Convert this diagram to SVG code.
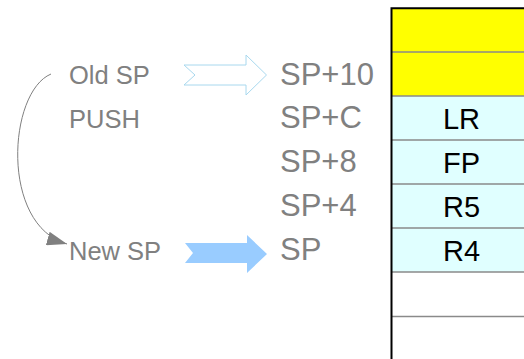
<svg xmlns="http://www.w3.org/2000/svg" width="524" height="359" viewBox="0 0 524 359">
  <style>
    .lbl { font-family: "Liberation Sans", Arial, sans-serif; font-size: 25.5px; fill: #808080; }
    .sp { font-family: "Liberation Sans", Arial, sans-serif; font-size: 31px; fill: #808080; }
    .cell { font-family: "Liberation Sans", Arial, sans-serif; font-size: 29px; fill: #000000; text-anchor: middle; }
    .sep { stroke: #8a8a8a; stroke-width: 1.5; }
  </style>
  <defs>
    <marker id="ah2" viewBox="0 0 20 14" refX="20" refY="7" markerWidth="20" markerHeight="14" markerUnits="userSpaceOnUse" orient="auto">
      <path d="M0,0 L20,7 L0,14 z" fill="#808080"/>
    </marker>
  </defs>
  <rect width="524" height="359" fill="#ffffff"/>

  <g id="stack">
    <rect x="391.5" y="8.3" width="140" height="88" fill="#ffff00"/>
    <rect x="391.5" y="96" width="140" height="176" fill="#e0ffff"/>
    <line class="sep" x1="392" y1="52" x2="524" y2="52"/>
    <line class="sep" x1="392" y1="96" x2="524" y2="96"/>
    <line class="sep" x1="392" y1="140" x2="524" y2="140"/>
    <line class="sep" x1="392" y1="184" x2="524" y2="184"/>
    <line class="sep" x1="392" y1="228" x2="524" y2="228"/>
    <line class="sep" x1="392" y1="272" x2="524" y2="272"/>
    <line class="sep" x1="392" y1="316.5" x2="524" y2="316.5"/>
    <path d="M391.5,359 L391.5,8.3 L524,8.3" fill="none" stroke="#000000" stroke-width="2"/>
    <text class="cell" x="461.5" y="128.5">LR</text>
    <text class="cell" x="461.5" y="172.5">FP</text>
    <text class="cell" x="461.5" y="216.5">R5</text>
    <text class="cell" x="461.5" y="260.5">R4</text>
  </g>

  <g id="offsets">
    <text class="sp" x="280" y="85">SP+10</text>
    <text class="sp" x="280" y="128">SP+C</text>
    <text class="sp" x="280" y="172">SP+8</text>
    <text class="sp" x="280" y="216">SP+4</text>
    <text class="sp" x="280" y="260">SP</text>
  </g>

  <g id="old-sp">
    <text class="lbl" x="69" y="84">Old SP</text>
  </g>
  <g id="push">
    <text class="lbl" x="69" y="128">PUSH</text>
  </g>
  <g id="new-sp">
    <text class="lbl" x="69" y="260">New SP</text>
  </g>

  <g id="connectors">
    <path d="M184,65 L246,65 L246,55 L266.5,75 L246,95 L246,85 L184,85 L195,75 Z" fill="#ffffff" stroke="#a8d8ee" stroke-width="1"/>
    <path d="M185,243 L247,243 L247,235 L267,254 L247,273 L247,263 L185,263 L193,253 Z" fill="#99ccff"/>
    <path d="M51,74 C8,92 0,225 67,244" fill="none" stroke="#808080" stroke-width="1" marker-end="url(#ah2)"/>
  </g>
</svg>
